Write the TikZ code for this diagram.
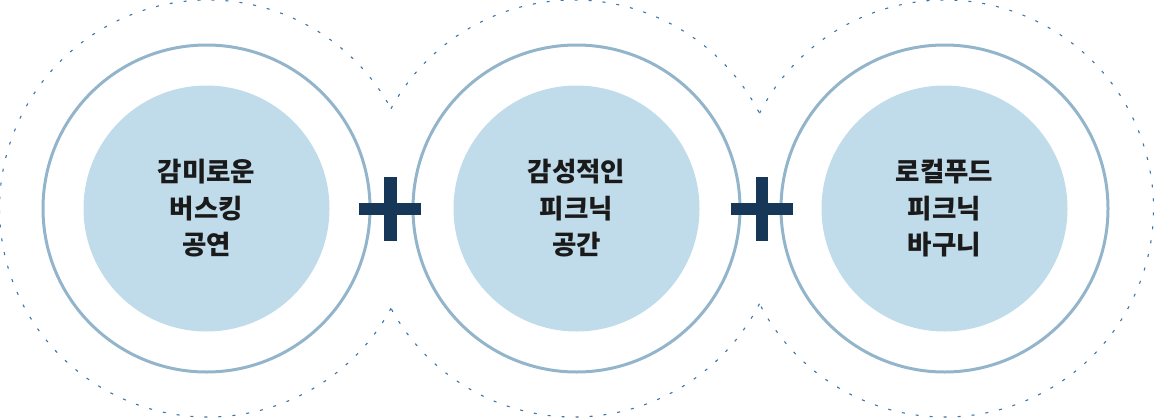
\documentclass[tikz,border=0pt]{standalone}
\usepackage{fontspec}
\setmainfont{Noto Sans CJK KR}
\usetikzlibrary{positioning}
\definecolor{ringblue}{HTML}{93B5CB}
\definecolor{discblue}{HTML}{C0DCEB}
\definecolor{dotblue}{HTML}{3D75A6}
\definecolor{plusnavy}{HTML}{173759}
\definecolor{inkblack}{HTML}{1A1A1A}
\tikzset{
  ring/.style={draw=ringblue, line width=3pt},
  disc/.style={fill=discblue},
  dotring/.style={draw=dotblue, line width=1.1pt, dash pattern=on 3pt off 11pt},
  disctext/.style={align=center, text=inkblack, font=\bfseries\fontsize{26.5}{36.5}\selectfont},
  plusbar/.style={fill=plusnavy}
}

\begin{document}
\begin{tikzpicture}[x=1pt,y=-1pt]
  \useasboundingbox (0,0) rectangle (1154,418);
  \coordinate (c1) at (206.5,208.5);
  \coordinate (c2) at (576.5,208.5);
  \coordinate (c3) at (944.5,208.5);
  \coordinate (d1) at (208,208.5);
  \coordinate (d2) at (574,208.5);
  \coordinate (d3) at (945,208.5);
  \coordinate (p1) at (390.2,209);
  \coordinate (p2) at (762,209);
  % dotted outline round the three circles
  \draw[dotring] ([shift={(28.6:208.5)}]d1) arc[start angle=28.6, end angle=331.4, radius=208.5];
  \draw[dotring] ([shift={(27.2:208.5)}]d2) arc[start angle=27.2, end angle=151.4, radius=208.5];
  \draw[dotring] ([shift={(208.6:208.5)}]d2) arc[start angle=208.6, end angle=332.8, radius=208.5];
  \draw[dotring] ([shift={(-152.8:208.5)}]d3) arc[start angle=-152.8, end angle=152.8, radius=208.5];
  \foreach \c in {c1,c2,c3} {
    \draw[ring] (\c) circle[radius=163.5];
    \fill[disc] (\c) circle[radius=123];
  }
  \node[disctext] (t1) at (c1) {감미로운\\버스킹\\공연};
  \node[disctext] (t2) at (c2) {감성적인\\피크닉\\공간};
  \node[disctext] (t3) at (c3) {로컬푸드\\피크닉\\바구니};
  \foreach \p in {p1,p2} {
    \fill[plusbar] ([shift={(-31,-6.3)}]\p) rectangle ([shift={(31,6.3)}]\p);
    \fill[plusbar] ([shift={(-6.3,-31.7)}]\p) rectangle ([shift={(6.3,31.7)}]\p);
  }
\end{tikzpicture}
\end{document}
